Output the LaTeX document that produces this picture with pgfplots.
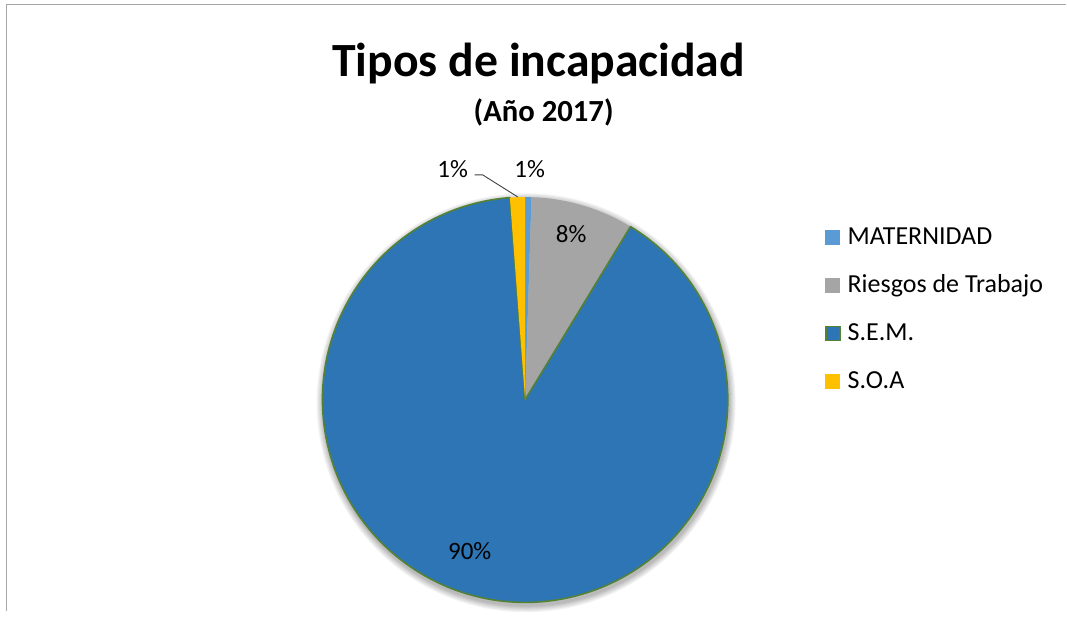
\documentclass[border=0pt]{standalone}
\usepackage{pgfplots}
\pgfplotsset{compat=1.18}
\usepackage{pgfplotstable}
\usepackage{fontspec}
\setmainfont{Carlito}
\definecolor{matcol}{HTML}{5B9BD5}
\definecolor{rtcol}{HTML}{A5A5A5}
\definecolor{semcol}{HTML}{2E75B6}
\definecolor{soacol}{HTML}{FFC000}
\definecolor{semedge}{HTML}{548235}
\definecolor{framecol}{HTML}{A6A6A6}

\pgfplotstableread{
label value
MATERNIDAD 0.5
Riesgos 8.2
SEM 90.1
SOA 1.2
}\piedata
\pgfplotstablegetelem{0}{value}\of\piedata \let\vA\pgfplotsretval
\pgfplotstablegetelem{1}{value}\of\piedata \let\vB\pgfplotsretval
\pgfplotstablegetelem{2}{value}\of\piedata \let\vC\pgfplotsretval
\pgfplotstablegetelem{3}{value}\of\piedata \let\vD\pgfplotsretval
\pgfmathsetmacro\aA{90-3.6*\vA}
\pgfmathsetmacro\aB{\aA-3.6*\vB}
\pgfmathsetmacro\aC{\aB-3.6*\vC}
\pgfmathsetmacro\aD{\aC-3.6*\vD}
\def\R{202.8pt}

\begin{document}%
\begin{tikzpicture}
\begin{axis}[hide axis, scale only axis, width=1067pt, height=611pt,
  xmin=0, xmax=1067, ymin=0, ymax=611, clip=false]
\path (axis cs:0,0) rectangle (axis cs:1067,611);
% frame
\draw[framecol, line width=1.5pt] (axis cs:6.5,0) -- (axis cs:6.5,606.5) -- (axis cs:1067,606.5);
% title
\node[anchor=base, font=\fontsize{47.7}{55}\selectfont\bfseries] at (axis cs:539,534) {Tipos de incapacidad};
\node[anchor=base, font=\fontsize{30.7}{36}\selectfont\bfseries] at (axis cs:544,489) {(Año 2017)};
% shadow
\fill[black, opacity=0.05] (axis cs:526.5,208) circle[radius=204];
\fill[black, opacity=0.05] (axis cs:526.5,208) circle[radius=205];
\fill[black, opacity=0.05] (axis cs:526.5,208) circle[radius=206];
\fill[black, opacity=0.05] (axis cs:526.5,208) circle[radius=207.2];
\fill[black, opacity=0.05] (axis cs:526.5,208) circle[radius=208.4];
\fill[black, opacity=0.05] (axis cs:526.5,208) circle[radius=209.6];
% slices
\fill[matcol] (axis cs:525.5,211) -- ++(90:\R) arc[start angle=90, end angle=\aA, radius=\R] -- cycle;
\fill[rtcol] (axis cs:525.5,211) -- ++(\aA:\R) arc[start angle=\aA, end angle=\aB, radius=\R] -- cycle;
\filldraw[fill=semcol, draw=semedge, line width=1.6pt, line join=round] (axis cs:525.5,211) -- ++(\aB:\R) arc[start angle=\aB, end angle=\aC, radius=\R] -- cycle;
\fill[soacol] (axis cs:525.5,211) -- ++(\aC:\R) arc[start angle=\aC, end angle=\aD, radius=\R] -- cycle;
% data labels
\node[anchor=base, font=\fontsize{25}{30}\selectfont] at (axis cs:530,433) {1\%};
\node[anchor=base, font=\fontsize{25}{30}\selectfont] at (axis cs:453,433) {1\%};
\draw[black!75, line width=0.9pt] (axis cs:475,436) -- (axis cs:483,436) -- (axis cs:518,414);
\node[anchor=base, font=\fontsize{25}{30}\selectfont] at (axis cs:571.5,368) {8\%};
\node[anchor=base, font=\fontsize{25}{30}\selectfont] at (axis cs:470,51) {90\%};
% legend
\fill[matcol] (axis cs:826,366) rectangle (axis cs:841,381);
\node[anchor=base west, inner sep=0pt, font=\fontsize{26}{31}\selectfont] at (axis cs:848,366) {MATERNIDAD};
\fill[rtcol] (axis cs:826,318) rectangle (axis cs:841,333);
\node[anchor=base west, inner sep=0pt, font=\fontsize{26}{31}\selectfont] at (axis cs:848,318) {Riesgos de Trabajo};
\filldraw[fill=semcol, draw=semedge, line width=1.5pt] (axis cs:826.5,270.5) rectangle (axis cs:840.5,284.5);
\node[anchor=base west, inner sep=0pt, font=\fontsize{26}{31}\selectfont] at (axis cs:848,270) {S.E.M.};
\fill[soacol] (axis cs:826,222) rectangle (axis cs:841,237);
\node[anchor=base west, inner sep=0pt, font=\fontsize{26}{31}\selectfont] at (axis cs:848,222) {S.O.A};
\end{axis}
\end{tikzpicture}%
\end{document}
